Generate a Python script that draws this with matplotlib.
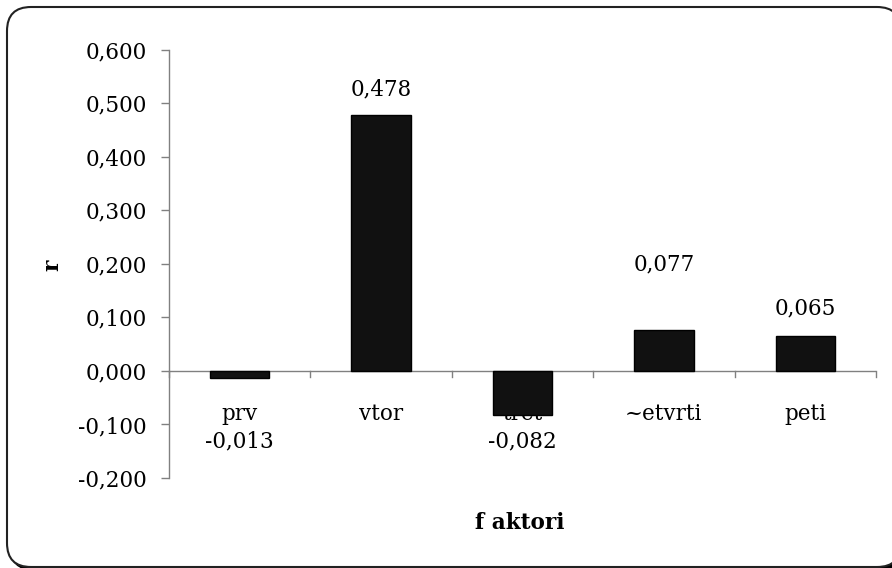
import matplotlib.pyplot as plt
import numpy as np
from matplotlib.patches import FancyBboxPatch

# data
categories = ["prv", "vtor", "tret", "~etvrti", "peti"]
values = [-0.013, 0.478, -0.082, 0.077, 0.065]
value_labels = ["-0,013", "0,478", "-0,082", "0,077", "0,065"]
y_ticks = [-0.2, -0.1, 0.0, 0.1, 0.2, 0.3, 0.4, 0.5, 0.6]

# label offsets in points (value labels were moved by hand in the original)
label_offsets = [-51, 18, -51, 47, 20]

plt.rcParams['font.family'] = 'DejaVu Serif'
fs = 15.5
axis_color = '#808080'

fig = plt.figure(figsize=(8.92, 5.68), dpi=100)

# rounded frame with shadow (inches, origin bottom-left)
shadow = FancyBboxPatch((0.10, -0.02), 8.94, 5.60,
                        boxstyle="round,pad=0,rounding_size=0.24",
                        transform=fig.dpi_scale_trans, facecolor='black',
                        edgecolor='black', zorder=-2)
frame = FancyBboxPatch((0.07, 0.01), 8.94, 5.60,
                       boxstyle="round,pad=0,rounding_size=0.24",
                       transform=fig.dpi_scale_trans, facecolor='white',
                       edgecolor='#222222', linewidth=1.5, zorder=-1)
fig.patches.extend([shadow, frame])

ax = fig.add_axes([169 / 892, 1 - 478 / 568, (876 - 169) / 892, (478 - 49.5) / 568])
ax.patch.set_visible(False)

x = np.arange(len(categories))
ax.bar(x, values, width=0.42, color='#111111', edgecolor='black',
       linewidth=1, zorder=3)

ax.set_xlim(-0.5, len(categories) - 0.5)
ax.set_ylim(-0.2, 0.6)
ax.set_yticks(y_ticks)
ax.set_yticklabels([f"{t:.3f}".replace('.', ',') for t in y_ticks], fontsize=fs)
ax.tick_params(axis='y', length=6, width=1, color=axis_color, pad=10)

# zero line with category boundary ticks
ax.set_xticks([])
ax.axhline(0, color=axis_color, linewidth=1, zorder=2)
for b in np.arange(-0.5, len(categories), 1.0):
    ax.plot([b, b], [0, -0.011], color=axis_color, linewidth=1,
            clip_on=False, zorder=2)

for s in ['top', 'right', 'bottom']:
    ax.spines[s].set_visible(False)
ax.spines['left'].set_color(axis_color)
ax.spines['left'].set_linewidth(1)

# category labels (drawn below the bars)
for i, c in enumerate(categories):
    ax.annotate(c, xy=(i, 0), xytext=(0, -31), textcoords='offset points',
                ha='center', va='center', fontsize=fs, zorder=1,
                annotation_clip=False)

# value labels
for i, (v, lab) in enumerate(zip(values, value_labels)):
    ax.annotate(lab, xy=(i, max(v, 0)), xytext=(0, label_offsets[i]),
                textcoords='offset points', ha='center', va='center',
                fontsize=fs, zorder=4, annotation_clip=False)

fig.text(52 / 892, 1 - 265 / 568, 'r', rotation=90, ha='center', va='center',
         fontsize=fs, fontweight='bold')
fig.text(520 / 892, 1 - 523 / 568, 'f aktori', ha='center', va='center',
         fontsize=fs, fontweight='bold')

fig.savefig('out.png', dpi=100)
